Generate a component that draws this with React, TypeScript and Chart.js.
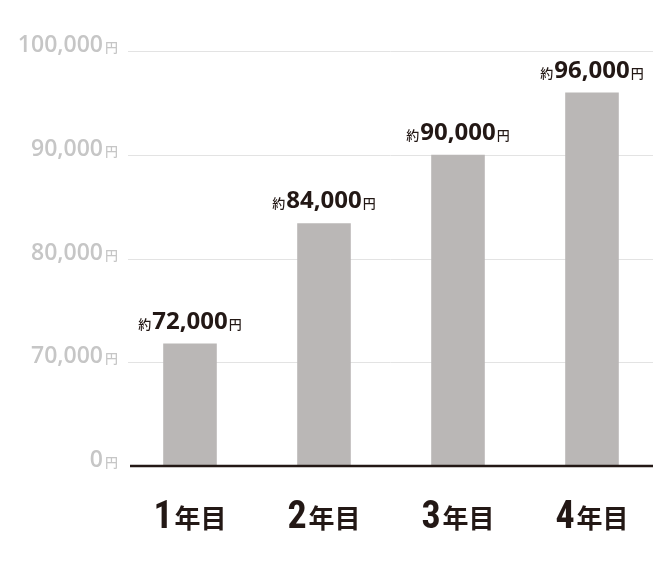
import React, { useEffect, useRef } from "react";
import { Chart, registerables } from "chart.js";

Chart.register(...registerables);

// ---- data ----
const categories = ["1年目", "2年目", "3年目", "4年目"];
const barValues = [71800, 83400, 90000, 96000]; // bar heights
const labelValues = [72000, 84000, 90000, 96000]; // "約…円" labels
const yTickValues = [0, 70000, 80000, 90000, 100000]; // broken axis ticks (evenly spaced)

const NUM_FONT = '"Open Sans", "Noto Sans", sans-serif';
const NARROW_FONT = '"Liberation Sans Narrow", "Roboto Condensed", Roboto, sans-serif';
const CJK_FONT = '"Noto Sans CJK JP", "Noto Sans", sans-serif';
const DARK = "#231815";
const BAR = "#bab7b6";
const TICK = "#c6c6c6";
const GRID = "#e3e3e3";

// piecewise map a value onto the evenly spaced broken axis (index units)
function toAxis(v: number): number {
  for (let i = 1; i < yTickValues.length; i++) {
    const a = yTickValues[i - 1];
    const b = yTickValues[i];
    if (v <= b) return i - 1 + (v - a) / (b - a);
  }
  return yTickValues.length - 1;
}

type Seg = { text: string; font: string; color: string; gap?: number };

function measure(ctx: CanvasRenderingContext2D, segs: Seg[]) {
  let w = 0;
  segs.forEach((s) => {
    ctx.font = s.font;
    w += ctx.measureText(s.text).width + (s.gap || 0);
  });
  return w;
}

function drawSegs(ctx: CanvasRenderingContext2D, segs: Seg[], x: number, y: number) {
  let cx = x;
  segs.forEach((s) => {
    ctx.font = s.font;
    ctx.fillStyle = s.color;
    ctx.textAlign = "left";
    ctx.textBaseline = "alphabetic";
    ctx.fillText(s.text, cx, y);
    cx += ctx.measureText(s.text).width + (s.gap || 0);
  });
}

const decorPlugin = {
  id: "decor",
  beforeDatasetsDraw(chart: any) {
    const { ctx, chartArea, scales } = chart;
    const y = scales.y;
    ctx.save();
    // grid lines
    yTickValues.forEach((v, i) => {
      if (i === 0) return;
      const py = Math.round(y.getPixelForValue(i)) + 0.5;
      ctx.strokeStyle = GRID;
      ctx.lineWidth = 1;
      ctx.beginPath();
      ctx.moveTo(chartArea.left + 5, py);
      ctx.lineTo(chartArea.right - 6, py);
      ctx.stroke();
    });
    // y labels
    yTickValues.forEach((v, i) => {
      const py = y.getPixelForValue(i) + 1;
      const segs: Seg[] = [
        { text: v.toLocaleString("en-US"), font: `600 23px ${NUM_FONT}`, color: TICK, gap: 2 },
        { text: "円", font: `500 13px ${CJK_FONT}`, color: TICK },
      ];
      const w = measure(ctx, segs);
      drawSegs(ctx, segs, chartArea.left - 5 - w, py);
    });
    ctx.restore();
  },
  afterDatasetsDraw(chart: any) {
    const { ctx, chartArea, scales } = chart;
    const y = scales.y;
    const meta = chart.getDatasetMeta(0);
    ctx.save();
    // baseline
    const by = y.getPixelForValue(0);
    ctx.strokeStyle = DARK;
    ctx.lineWidth = 2.5;
    ctx.beginPath();
    ctx.moveTo(chartArea.left + 7, by);
    ctx.lineTo(chartArea.right - 6, by);
    ctx.stroke();
    // value labels
    meta.data.forEach((bar: any, i: number) => {
      const segs: Seg[] = [
        { text: "約", font: `500 13px ${CJK_FONT}`, color: DARK, gap: 1 },
        { text: labelValues[i].toLocaleString("en-US"), font: `700 24px ${NUM_FONT}`, color: DARK, gap: 1 },
        { text: "円", font: `500 13px ${CJK_FONT}`, color: DARK },
      ];
      const w = measure(ctx, segs);
      drawSegs(ctx, segs, bar.x - w / 2, bar.y - 15);
    });
    // category labels
    meta.data.forEach((bar: any, i: number) => {
      const m = categories[i].match(/^(\d+)(.*)$/);
      const num = m ? m[1] : categories[i];
      const rest = m ? m[2] : "";
      const segs: Seg[] = [
        { text: num, font: `700 38px ${NARROW_FONT}`, color: DARK, gap: 2 },
        { text: rest, font: `700 26px ${CJK_FONT}`, color: DARK },
      ];
      const w = measure(ctx, segs);
      drawSegs(ctx, segs, bar.x - w / 2, by + 62);
    });
    ctx.restore();
  },
};

export default function App() {
  const ref = useRef<HTMLCanvasElement>(null);
  useEffect(() => {
    if (!ref.current) return;
    const chart = new Chart(ref.current, {
      type: "bar",
      data: {
        labels: categories,
        datasets: [
          {
            data: barValues.map(toAxis),
            backgroundColor: BAR,
            barPercentage: 0.4,
            categoryPercentage: 1,
          },
        ],
      },
      options: {
        animation: false,
        responsive: false,
        maintainAspectRatio: false,
        layout: { padding: { left: 123, right: 13, top: 51, bottom: 110 } },
        scales: {
          x: { display: false },
          y: { display: false, min: 0, max: yTickValues.length - 1 },
        },
        plugins: { legend: { display: false }, tooltip: { enabled: false } },
      },
      plugins: [decorPlugin],
    });
    return () => chart.destroy();
  }, []);
  return (
    <div style={{ position: "fixed", left: 0, top: 0, width: 672, height: 576, background: "#fff" }}>
      <canvas ref={ref} width={672} height={576} />
    </div>
  );
}
